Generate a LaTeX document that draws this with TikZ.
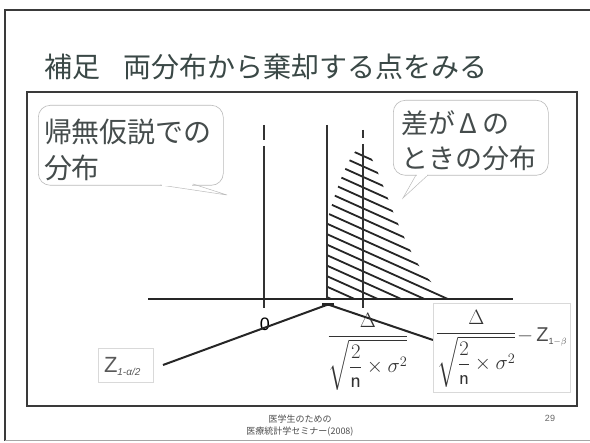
\documentclass[tikz,border=0pt]{standalone}
\usepackage{fontspec}
\setmainfont{Liberation Sans}
\newfontfamily\jp{Noto Sans CJK JP}
\usepackage{amsmath}
\definecolor{titlecol}{HTML}{3A4846}
\definecolor{txtcol}{HTML}{454C4C}
\definecolor{framecol}{HTML}{3A3A3A}
\definecolor{lightline}{HTML}{BBBBBB}
\tikzset{
  frameline/.style={draw=framecol, line width=1.3pt},
  callout/.style={draw=lightline, line width=0.6pt, rounded corners=12pt, align=left, inner sep=0pt, text=txtcol},
  tailline/.style={draw=lightline, line width=0.5pt},
  axisline/.style={draw=black!85, line width=1.4pt},
  vline/.style={draw=black!80, line width=1.1pt},
  hatchline/.style={draw=black!85, line width=1.8pt},
  polyline/.style={draw=black!85, line width=2pt},
  zbox/.style={draw=black!15, line width=0.6pt, inner sep=0pt},
  plain/.style={inner sep=0pt, outer sep=0pt}
}
\begin{document}
\begin{tikzpicture}[x=1pt,y=-1pt]
\useasboundingbox (0,0) rectangle (590,443);
\fill[white] (0,0) rectangle (590,443);
% frames
\draw[frameline] (594,10) -- (5,10) -- (5,441);
\draw[draw=black!35, line width=1pt] (5,441) -- (594,441);
\draw[frameline] (27,92) rectangle (577,406);
% title
\node[plain, anchor=west, text=titlecol] (title) at (45,67)
  {\jp\fontsize{28}{30}\selectfont 補足\hspace{0.8em}両分布から棄却する点をみる};
% callout 1
\node[callout, minimum width=185pt, minimum height=80pt, anchor=north west] (c1) at (38,105) {};
\node[plain, anchor=west, text=txtcol] (c1a) at (44,132) {\jp\fontsize{28}{30}\selectfont 帰無仮説での};
\node[plain, anchor=west, text=txtcol] (c1b) at (44,168) {\jp\fontsize{28}{30}\selectfont 分布};
\coordinate (t1) at (227,195);
\draw[tailline] (160,185) -- (t1) -- (193,184);
\fill[white] (162,184.2) rectangle (192,186);
% callout 2
\node[callout, minimum width=155pt, minimum height=75pt, anchor=north west] (c2) at (393,100) {};
\node[plain, anchor=west, text=txtcol] (c2a) at (401,123) {\jp\fontsize{27}{30}\selectfont 差が\makebox[1em]{Δ}の};
\node[plain, anchor=west, text=txtcol] (c2b) at (401,158) {\jp\fontsize{27}{30}\selectfont ときの分布};
\coordinate (t2) at (403,198);
\draw[tailline] (416,175) -- (t2) -- (428,175);
\fill[white] (417,174.2) rectangle (427,176);
% hatched region
\begin{scope}
\clip (327,300) -- (327,222) .. controls (334,195) and (350,148) .. (362,147)
  .. controls (372,148) and (385,195) .. (400,228)
  .. controls (415,262) and (430,290) .. (455,298) -- (455,300) -- cycle;
\foreach \k in {0,...,17} \draw[hatchline] (320,{126+10.5*\k}) -- +(160,72);
\end{scope}
% vertical lines
\draw[vline] (264,125) -- (264,140);
\draw[vline] (264,146) -- (264,308);
\draw[vline] (327,125) -- (327,300);
\draw[vline] (363,130) -- (363,138);
\draw[vline] (363,144) -- (363,308);
% axis
\coordinate (axl) at (148,299);
\coordinate (axr) at (513,299);
\draw[axisline] (axl) -- (axr);
% zero label
\node[plain] (zero) at (265,324) {\fontsize{18}{20}\selectfont 0};
% z_{1-alpha/2} box
\node[zbox, minimum width=55pt, minimum height=34pt, anchor=north west] (zb) at (98,348) {};
\node[plain, anchor=base west, text=black!65] (zt) at (104,373)
  {\fontsize{22}{24}\selectfont Z\raisebox{-3pt}{\fontsize{10}{12}\selectfont\itshape\rmfamily 1-α/2}};
% apex and polyline
\coordinate (zend) at (163,365);
\coordinate (apex) at (328,304.5);
\coordinate (rend) at (433,340);
\draw[polyline] (zend) -- (apex) -- (rend);
\fill[black!85] (322,303) rectangle (334,306.5);
% middle fraction
\node[plain, text=black!80] (frac1) at (368,352)
  {\fontsize{22}{24}\selectfont $\dfrac{\Delta}{\sqrt{\dfrac{2}{\mathsf{n}}\times\sigma^{2}}}$};
% right box
\node[zbox, minimum width=137pt, minimum height=89pt, anchor=north west] (rb) at (433,303) {};
\node[plain, text=black!80, anchor=west] (frac2) at (436,349)
  {\fontsize{20.5}{24}\selectfont $\dfrac{\Delta}{\sqrt{\dfrac{2}{\mathsf{n}}\times\sigma^{2}}}$};
\node[plain, text=black!70, anchor=west] (zb2) at (517,337)
  {\fontsize{20}{24}\selectfont $-$\,Z\raisebox{-3pt}{\fontsize{9}{10}\selectfont 1$-$$\beta$}};
% footer
\node[plain, text=black!70, align=center, font=\jp\fontsize{9}{12}\selectfont] (foot) at (300,426)
  {医学生のための\\医療統計学セミナー(2008)};
\node[plain, text=black!60] (page) at (550,418) {\fontsize{9}{10}\selectfont 29};
\end{tikzpicture}
\end{document}
